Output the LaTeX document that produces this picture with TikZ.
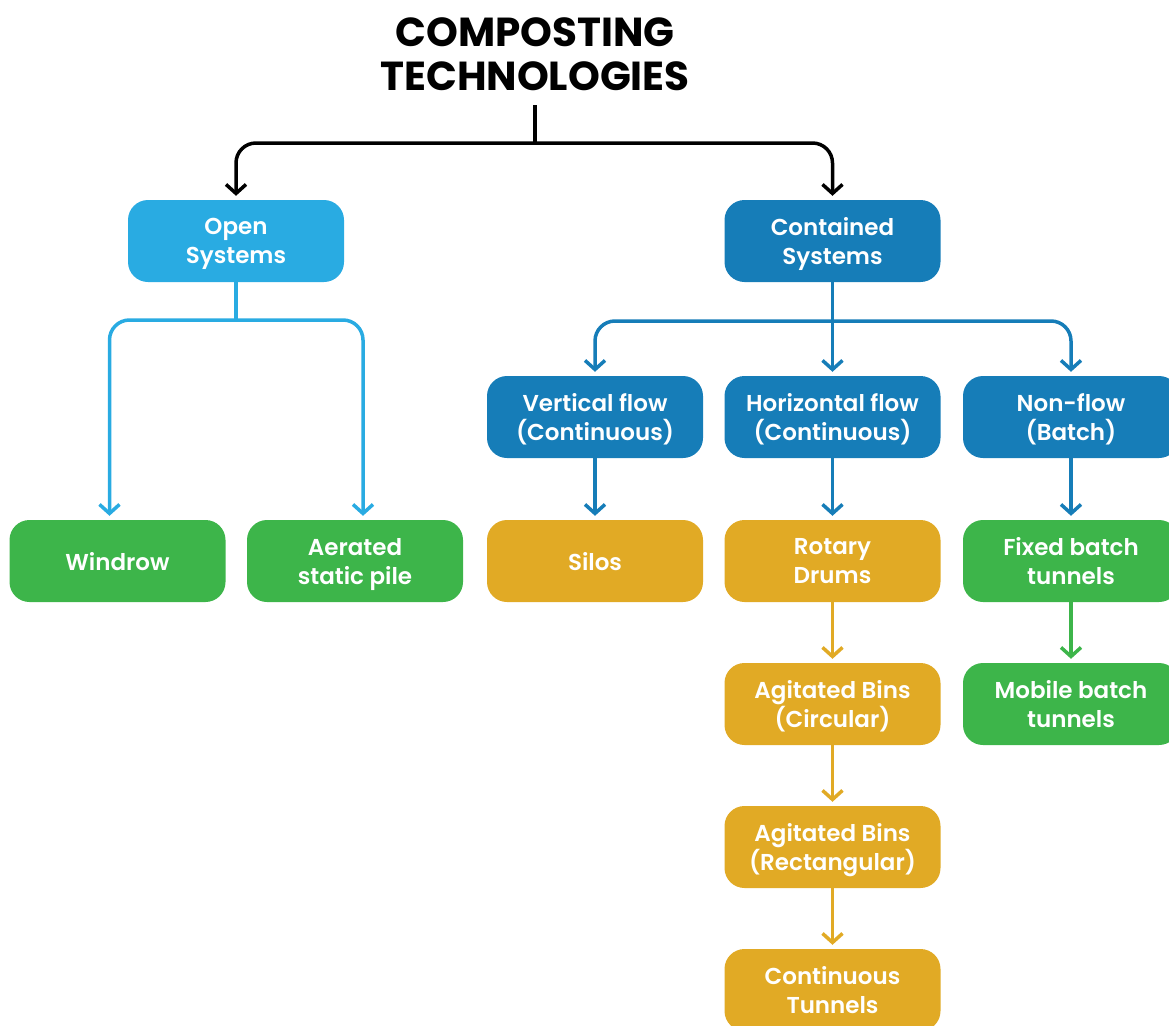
\documentclass[tikz,border=0pt]{standalone}
\usepackage{fontspec}
\setmainfont{Poppins}
\newfontfamily\titlefont{Poppins}[UprightFont=* Bold]
\newfontfamily\boxfont{Poppins}[UprightFont=* SemiBold]
\usetikzlibrary{arrows.meta}
\definecolor{lblue}{HTML}{29ABE2}
\definecolor{dblue}{HTML}{167DB8}
\definecolor{cgreen}{HTML}{3DB54A}
\definecolor{cgold}{HTML}{E1AA25}
\tikzset{
  box/.style={rectangle, rounded corners=20pt, minimum width=216pt, minimum height=82pt,
    inner sep=0pt, text depth=0pt, text=white, align=center, font=\boxfont\fontsize{23}{29}\selectfont},
  conn/.style={line width=3.5pt, rounded corners=20pt, shorten >=4pt,
    -{Straight Barb[length=9pt,width=20pt,line width=3.5pt]}},
  plain/.style={line width=3.5pt, rounded corners=20pt},
}
\begin{document}
\begin{tikzpicture}[x=1pt,y=-1pt]
\useasboundingbox (0,0) rectangle (1169,1025);
\clip (0,0) rectangle (1169,1025);
\node[font=\titlefont\fontsize{40.5}{44}\selectfont, align=center, inner sep=0pt] (title) at (535,54) {COMPOSTING\\TECHNOLOGIES};
\coordinate (tstem) at (535,105);
\coordinate (tj) at (535,143);

\node[box, fill=lblue] (open) at (236,241) {Open\\Systems};
\node[box, fill=dblue] (contained) at (832.5,241) {Contained\\Systems};
\node[box, fill=cgreen] (windrow) at (117.5,561) {Windrow};
\node[box, fill=cgreen] (aerated) at (355,561) {Aerated\\static pile};
\node[box, fill=dblue] (vertical) at (595,417) {Vertical flow\\(Continuous)};
\node[box, fill=dblue] (horizontal) at (832.5,417) {Horizontal flow\\(Continuous)};
\node[box, fill=dblue] (nonflow) at (1071,417) {Non-flow\\(Batch)};
\node[box, fill=cgold] (silos) at (595,561) {Silos};
\node[box, fill=cgold] (rotary) at (832.5,561) {Rotary\\Drums};
\node[box, fill=cgreen] (fixed) at (1071,561) {Fixed batch\\tunnels};
\node[box, fill=cgold] (agcirc) at (832.5,704) {Agitated Bins\\(Circular)};
\node[box, fill=cgreen] (mobile) at (1071,704) {Mobile batch\\tunnels};
\node[box, fill=cgold] (agrect) at (832.5,847) {Agitated Bins\\(Rectangular)};
\node[box, fill=cgold] (conttun) at (832.5,990) {Continuous\\Tunnels};

% title connectors
\draw[plain, black] (tstem) -- (tj);
\draw[conn, black] (tj) -| (open.north);
\draw[conn, black] (tj) -| (contained.north);

% open systems
\coordinate (oj) at (236,320);
\draw[plain, lblue] (open.south) -- (oj);
\draw[conn, lblue] (oj) -| ([xshift=-8pt]windrow.north);
\draw[conn, lblue] (oj) -| ([xshift=8pt]aerated.north);

% contained systems
\coordinate (cj) at (832.5,321);
\draw[conn, dblue] (contained.south) -- (horizontal.north);
\draw[conn, dblue] (cj) -| (vertical.north);
\draw[conn, dblue] (cj) -| (nonflow.north);
\draw[conn, dblue] (vertical.south) -- (silos.north);
\draw[conn, dblue] (horizontal.south) -- (rotary.north);
\draw[conn, dblue] (nonflow.south) -- (fixed.north);

% chains
\draw[conn, cgold] (rotary.south) -- (agcirc.north);
\draw[conn, cgold] (agcirc.south) -- (agrect.north);
\draw[conn, cgold] (agrect.south) -- (conttun.north);
\draw[conn, cgreen] (fixed.south) -- (mobile.north);
\end{tikzpicture}
\end{document}
